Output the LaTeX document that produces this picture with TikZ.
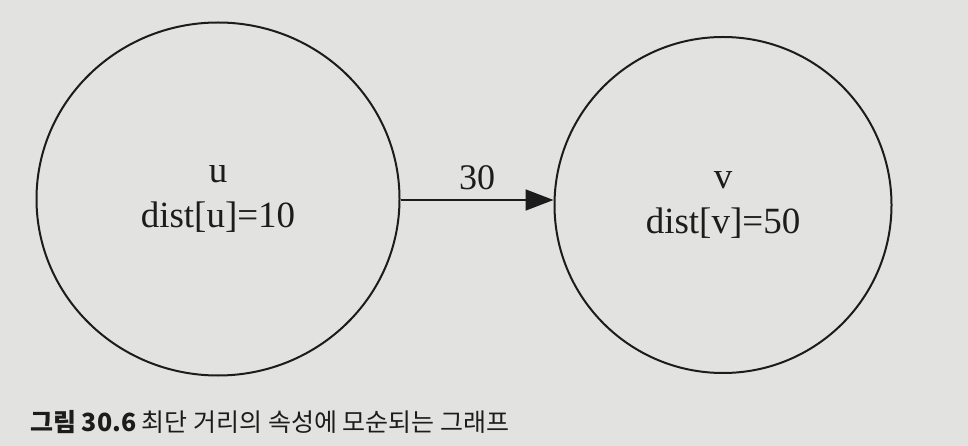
\documentclass[tikz,border=0pt]{standalone}
\usepackage{fontspec}
\setmainfont{Liberation Serif}
\newfontfamily\krfont{Noto Sans CJK KR}
\usetikzlibrary{arrows.meta,shapes.geometric}
\definecolor{paper}{HTML}{E2E2E0}
\definecolor{ink}{HTML}{1C1C1C}
\begin{document}
\begin{tikzpicture}[x=1pt,y=-1pt,
  vertex/.style={ellipse,draw=ink,line width=2pt,inner sep=0pt,align=center,font=\fontsize{37}{45}\selectfont,text=ink},
  edge/.style={draw=ink,line width=1.8pt,-{Triangle[length=28pt,width=21pt]}}]
\fill[paper] (0,0) rectangle (968,446);
\useasboundingbox (0,0) rectangle (968,446);
\node[vertex,minimum width=363pt,minimum height=353pt] (u) at (218,199) {u\\dist[u]=10};
\node[vertex,minimum width=337pt,minimum height=336pt] (v) at (723,205) {v\\dist[v]=50};
\coordinate (t) at (v.west |- 0,200);
\draw[edge] (u.east |- 0,200) -- node[above=6pt,font=\fontsize{36}{40}\selectfont,text=ink] (w) {30} (t);
\node[anchor=west,text=ink,font=\krfont\fontsize{25}{30}\selectfont,inner sep=0pt] (cap) at (30,422) {\textbf{그림 30.6} 최단 거리의 속성에 모순되는 그래프};
\end{tikzpicture}
\end{document}
